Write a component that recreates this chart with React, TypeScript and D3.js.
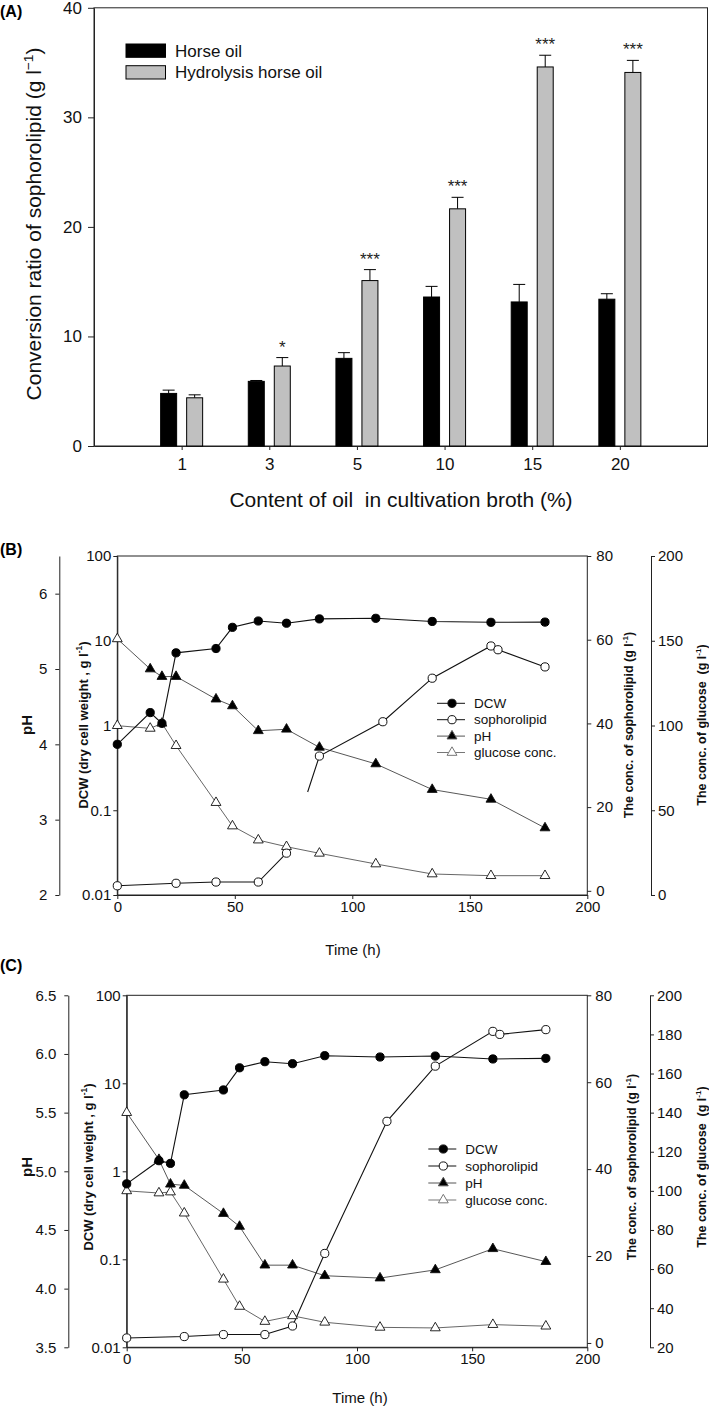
import React, { useEffect, useRef } from "react";
import * as d3 from "d3";

const FONT = "'Liberation Sans', Arial, Helvetica, sans-serif";

// ---- panel A: conversion ratio bars ----
const oilContents = ["1", "3", "5", "10", "15", "20"];
const barSeries = ["Horse oil", "Hydrolysis horse oil"];
const horseOil = [4.8, 5.9, 8.0, 13.6, 13.15, 13.4];
const horseOilErr = [0.3, 0.08, 0.52, 0.97, 1.6, 0.5];
const hydroOil = [4.4, 7.3, 15.1, 21.65, 34.6, 34.1];
const hydroOilErr = [0.27, 0.77, 1.0, 1.05, 1.07, 1.1];
const significance = ["", "*", "***", "***", "***", "***"];
const barTicks = [0, 10, 20, 30, 40];

// ---- panel B: horse oil cultivation ----
const timeB = [0, 14, 19, 25, 42, 49, 60, 72, 86, 110, 134, 159, 182];
const dcwB = [0.6, 1.42, 1.06, 7.2, 8.1, 14.4, 17.1, 16.1, 18.1, 18.4, 16.9, 16.5, 16.6];
const phB = [5.4, 5.0, 4.9, 4.9, 4.6, 4.51, 4.18, 4.2, 3.96, 3.74, 3.4, 3.27, 2.89];
const glucoseB = [99.9, 98.3, 101.3, 88.1, 54.5, 40.7, 32.4, 28.5, 24.6, 18.3, 12.4, 11.4, 11.4];
const sophTimeB = [0, 25, 42, 60, 72, 86, 113, 134, 159, 162, 182];
const sophB = [1.2, 1.8, 2.1, 2.1, 9.0, 32.2, 40.4, 50.8, 58.5, 57.6, 53.5];
// the line between 72 h and 86 h is broken in the original; it restarts here
const sophBRestart = [81, 23.6];

// ---- panel C: hydrolysed horse oil cultivation ----
const timeC = [0, 14, 19, 25, 42, 49, 60, 72, 86, 110, 134, 159, 182];
const dcwC = [0.72, 1.32, 1.23, 7.4, 8.4, 15.0, 17.6, 16.7, 20.6, 19.9, 20.4, 18.9, 19.2];
const phC = [5.5, 5.1, 4.89, 4.88, 4.64, 4.53, 4.2, 4.2, 4.11, 4.09, 4.16, 4.34, 4.23];
const glucoseC = [100, 98.9, 99.4, 88.6, 54.8, 40.9, 33.2, 36.1, 32.8, 30.2, 29.9, 31.6, 30.8];
const sophTimeC = [0, 25, 42, 60, 72, 86, 113, 134, 159, 162, 182];
const sophC = [1.15, 1.47, 1.93, 1.93, 3.9, 20.6, 51.0, 63.7, 71.7, 71.0, 72.1];

const timeTicks = [0, 50, 100, 150, 200];
const dcwTicks = [0.01, 0.1, 1, 10, 100];
const sophTicks = [0, 20, 40, 60, 80];
const legendLabels = ["DCW", "sophorolipid", "pH", "glucose conc."];

type Sel = d3.Selection<any, unknown, null, undefined>;

function styleAxis(g: Sel, size: number) {
  g.attr("font-family", FONT).attr("font-size", size);
  g.select(".domain").attr("stroke", "#222");
  g.selectAll(".tick line").attr("stroke", "#222");
  g.selectAll(".tick text").attr("fill", "#111");
}

function rotTitle(
  g: Sel, x: number, y: number, main: string, sup: string, tail: string,
  size: number, weight: string
) {
  const t = g
    .append("text")
    .attr("transform", `translate(${x},${y}) rotate(-90)`)
    .attr("text-anchor", "middle")
    .attr("y", size * 0.35)
    .attr("font-size", size)
    .attr("font-weight", weight)
    .attr("fill", "#111")
    .style("white-space", "pre");
  t.append("tspan").text(main);
  if (sup) {
    t.append("tspan").attr("font-size", size * 0.65).attr("dy", -size * 0.4).text(sup);
    t.append("tspan").attr("dy", size * 0.4).text(tail);
  } else {
    t.append("tspan").text(tail);
  }
}

function drawBars(svg: Sel) {
  const left = 94, right = 707.5, top = 7.8, bottom = 446;
  const x = d3.scalePoint<string>().domain(oilContents).range([left, right]).padding(1);
  const inner = d3.scaleBand<string>().domain(barSeries).range([-21, 21]).paddingInner(0.385);
  const y = d3.scaleLinear().domain([0, 40]).range([bottom, top]);
  const g = svg.append("g");

  g.append("rect")
    .attr("x", left).attr("y", top)
    .attr("width", right - left).attr("height", bottom - top)
    .attr("fill", "none").attr("stroke", "#222");

  g.append("g")
    .attr("transform", `translate(${left},0)`)
    .call(d3.axisLeft(y).tickValues(barTicks).tickSize(6).tickPadding(6).tickSizeOuter(0))
    .call((a) => styleAxis(a, 17));

  g.append("g")
    .attr("transform", `translate(0,${bottom})`)
    .call(d3.axisBottom(x).tickSize(4).tickPadding(8).tickSizeOuter(0))
    .call((a) => styleAxis(a, 17));

  const series = [
    { name: barSeries[0], values: horseOil, err: horseOilErr, fill: "#000" },
    { name: barSeries[1], values: hydroOil, err: hydroOilErr, fill: "#c0c0c0" },
  ];
  series.forEach((s) => {
    const bw = inner.bandwidth();
    oilContents.forEach((c, i) => {
      const bx = x(c)! + inner(s.name)!;
      const cx = bx + bw / 2;
      const v = s.values[i];
      const e = s.err[i];
      g.append("line")
        .attr("x1", cx).attr("x2", cx)
        .attr("y1", y(v)).attr("y2", y(v + e))
        .attr("stroke", "#000");
      g.append("line")
        .attr("x1", cx - 6).attr("x2", cx + 6)
        .attr("y1", y(v + e)).attr("y2", y(v + e))
        .attr("stroke", "#000");
      g.append("rect")
        .attr("x", bx).attr("y", y(v))
        .attr("width", bw).attr("height", y(0) - y(v))
        .attr("fill", s.fill).attr("stroke", "#000");
    });
  });

  // significance marks over the hydrolysed oil bars
  oilContents.forEach((c, i) => {
    if (!significance[i]) return;
    const cx = x(c)! + inner(barSeries[1])! + inner.bandwidth() / 2;
    g.append("text")
      .attr("x", cx)
      .attr("y", y(hydroOil[i] + hydroOilErr[i]) - 5)
      .attr("text-anchor", "middle")
      .attr("font-size", 17)
      .attr("fill", "#222")
      .text(significance[i]);
  });

  // legend
  const lg = g.append("g").attr("transform", "translate(126,44)");
  series.forEach((s, i) => {
    lg.append("rect")
      .attr("x", 0).attr("y", i * 21.7)
      .attr("width", 39.5).attr("height", 13.3)
      .attr("fill", s.fill).attr("stroke", "#000");
    lg.append("text")
      .attr("x", 49).attr("y", i * 21.7 + 6.8)
      .attr("dy", "0.35em")
      .attr("font-size", 17)
      .attr("fill", "#111")
      .text(s.name);
  });

  g.append("text")
    .attr("x", 401).attr("y", 500).attr("dy", "0.35em")
    .attr("text-anchor", "middle")
    .attr("font-size", 21)
    .attr("fill", "#111")
    .style("white-space", "pre")
    .text("Content of oil  in cultivation broth (%)");

  rotTitle(g, 34, 224, "Conversion ratio of sophorolipid (g l", "\u22121", ")", 21, "normal");

  g.append("text")
    .attr("x", 0).attr("y", 11).attr("dy", "0.35em")
    .attr("font-size", 16).attr("font-weight", "bold")
    .text("(A)");
}

interface PanelCfg {
  tag: string;
  tagY: number;
  left: number;
  right: number;
  top: number;
  bottom: number;
  phAxisX: number;
  glucoseAxisX: number;
  phDomain: [number, number];
  phTicks: number[];
  phFormat: (d: number) => string;
  glucoseDomain: [number, number];
  glucoseTicks: number[];
  time: number[];
  dcw: number[];
  ph: number[];
  glucose: number[];
  sophTime: number[];
  soph: number[];
  sophRestart: number[] | null;
  legendX: number;
  legendY: number;
  legendStep: number;
  titleY: number;
  dcwTitleX: number;
  sophTitleX: number;
  timeLabelX: number;
  timeLabelY: number;
  sophPad: number;
  glucosePad: number;
  xPad: number;
}

function drawTimePanel(svg: Sel, p: PanelCfg) {
  const g = svg.append("g");
  const x = d3.scaleLinear().domain([0, 200]).range([p.left, p.right]);
  const yDcw = d3.scaleLog().domain([0.01, 100]).range([p.bottom, p.top]);
  const yPh = d3.scaleLinear().domain(p.phDomain).range([p.bottom, p.top]);
  const ySoph = d3.scaleLinear().domain([-1, 80]).range([p.bottom, p.top]);
  const yGlu = d3.scaleLinear().domain(p.glucoseDomain).range([p.bottom, p.top]);

  g.append("rect")
    .attr("x", p.left).attr("y", p.top)
    .attr("width", p.right - p.left).attr("height", p.bottom - p.top)
    .attr("fill", "none").attr("stroke", "#222");

  g.append("g")
    .attr("transform", `translate(0,${p.bottom})`)
    .call(d3.axisBottom(x).tickValues(timeTicks).tickSize(4).tickPadding(p.xPad).tickSizeOuter(0))
    .call((a) => styleAxis(a, 15));

  g.append("g")
    .attr("transform", `translate(${p.left},0)`)
    .call(
      d3.axisLeft(yDcw).tickValues(dcwTicks).tickSize(4).tickPadding(2).tickSizeOuter(0)
        .tickFormat((d) => String(d))
    )
    .call((a) => styleAxis(a, 15));

  g.append("g")
    .attr("transform", `translate(${p.phAxisX},0)`)
    .call(
      d3.axisLeft(yPh).tickValues(p.phTicks).tickSize(4).tickPadding(8).tickSizeOuter(0)
        .tickFormat((d) => p.phFormat(d as number))
    )
    .call((a) => styleAxis(a, 15));

  g.append("g")
    .attr("transform", `translate(${p.right},0)`)
    .call(d3.axisRight(ySoph).tickValues(sophTicks).tickSize(4).tickPadding(p.sophPad).tickSizeOuter(0))
    .call((a) => styleAxis(a, 15))
    .call((a) => a.select(".domain").remove());

  g.append("g")
    .attr("transform", `translate(${p.glucoseAxisX},0)`)
    .call(d3.axisRight(yGlu).tickValues(p.glucoseTicks).tickSize(4).tickPadding(p.glucosePad).tickSizeOuter(0))
    .call((a) => styleAxis(a, 15));

  // lines
  const line = d3.line<[number, number]>().x((d) => d[0]).y((d) => d[1]);
  const glu = p.time.map((t, i) => [x(t), yGlu(p.glucose[i])] as [number, number]);
  const ph = p.time.map((t, i) => [x(t), yPh(p.ph[i])] as [number, number]);
  const dcw = p.time.map((t, i) => [x(t), yDcw(p.dcw[i])] as [number, number]);
  const soph = p.sophTime.map((t, i) => [x(t), ySoph(p.soph[i])] as [number, number]);

  const sophSegments: [number, number][][] = [];
  if (p.sophRestart) {
    const cut = p.sophRestart[0];
    sophSegments.push(soph.filter((_, i) => p.sophTime[i] < cut));
    sophSegments.push([
      [x(p.sophRestart[0]), ySoph(p.sophRestart[1])],
      ...soph.filter((_, i) => p.sophTime[i] > cut),
    ]);
  } else {
    sophSegments.push(soph);
  }

  g.append("path").attr("d", line(glu)).attr("fill", "none").attr("stroke", "#555").attr("stroke-width", 0.9);
  g.append("path").attr("d", line(ph)).attr("fill", "none").attr("stroke", "#444").attr("stroke-width", 0.9);
  sophSegments.forEach((s) =>
    g.append("path").attr("d", line(s)).attr("fill", "none").attr("stroke", "#111").attr("stroke-width", 1.1)
  );
  g.append("path").attr("d", line(dcw)).attr("fill", "none").attr("stroke", "#111").attr("stroke-width", 1.1);

  const tri = d3.symbol().type(d3.symbolTriangle).size(42)()!;
  glu.forEach((d) =>
    g.append("path").attr("d", tri).attr("transform", `translate(${d[0]},${d[1]})`)
      .attr("fill", "#fff").attr("stroke", "#111").attr("stroke-width", 0.9)
  );
  ph.forEach((d, i) =>
    g.append("path").attr("d", tri).attr("transform", `translate(${d[0]},${d[1]})`)
      .attr("fill", i === 0 ? "#fff" : "#000").attr("stroke", "#111").attr("stroke-width", 0.9)
  );
  soph.forEach((d) =>
    g.append("circle").attr("cx", d[0]).attr("cy", d[1]).attr("r", 4.1)
      .attr("fill", "#fff").attr("stroke", "#111").attr("stroke-width", 1)
  );
  dcw.forEach((d) =>
    g.append("circle").attr("cx", d[0]).attr("cy", d[1]).attr("r", 4.1)
      .attr("fill", "#000").attr("stroke", "#000")
  );

  // legend
  const styles = [
    { shape: "circle", fill: "#000", stroke: "#111" },
    { shape: "circle", fill: "#fff", stroke: "#111" },
    { shape: "triangle", fill: "#000", stroke: "#555" },
    { shape: "triangle", fill: "#fff", stroke: "#777" },
  ];
  legendLabels.forEach((label, i) => {
    const ly = p.legendY + i * p.legendStep;
    const st = styles[i];
    g.append("line")
      .attr("x1", p.legendX - 15).attr("x2", p.legendX + 13)
      .attr("y1", ly).attr("y2", ly)
      .attr("stroke", st.stroke).attr("stroke-width", 1);
    if (st.shape === "circle") {
      g.append("circle").attr("cx", p.legendX).attr("cy", ly).attr("r", 4.1)
        .attr("fill", st.fill).attr("stroke", "#111");
    } else {
      g.append("path").attr("d", tri).attr("transform", `translate(${p.legendX},${ly})`)
        .attr("fill", st.fill).attr("stroke", st.stroke);
    }
    g.append("text")
      .attr("x", p.legendX + 22).attr("y", ly).attr("dy", "0.35em")
      .attr("font-size", 13.5).attr("fill", "#111")
      .text(label);
  });

  g.append("text")
    .attr("x", p.timeLabelX).attr("y", p.timeLabelY).attr("dy", "0.35em")
    .attr("text-anchor", "middle").attr("font-size", 15).attr("fill", "#111")
    .text("Time (h)");

  rotTitle(g, 27, p.titleY, "pH", "", "", 15, "bold");
  rotTitle(g, p.dcwTitleX, p.titleY, "DCW (dry cell weight , g l", "-1", ")", 13, "bold");
  rotTitle(g, p.sophTitleX, p.titleY, "The conc. of sophorolipid (g l", "-1", ")", 12.5, "bold");
  rotTitle(g, 702, p.titleY, "The conc. of glucose  (g l", "-1", ")", 12.5, "bold");

  g.append("text")
    .attr("x", 0).attr("y", p.tagY).attr("dy", "0.35em")
    .attr("font-size", 16).attr("font-weight", "bold")
    .text(p.tag);
}

const panelB: PanelCfg = {
  tag: "(B)", tagY: 549,
  left: 117.3, right: 587.3, top: 556, bottom: 895,
  phAxisX: 59.3, glucoseAxisX: 651,
  phDomain: [2, 6.5], phTicks: [2, 3, 4, 5, 6], phFormat: (d) => String(d),
  glucoseDomain: [0, 200], glucoseTicks: [0, 50, 100, 150, 200],
  time: timeB, dcw: dcwB, ph: phB, glucose: glucoseB,
  sophTime: sophTimeB, soph: sophB, sophRestart: sophBRestart,
  legendX: 452, legendY: 703.3, legendStep: 16.4,
  titleY: 725, dcwTitleX: 83, sophTitleX: 629,
  timeLabelX: 353, timeLabelY: 950,
  sophPad: 5, glucosePad: 3, xPad: 2,
};

const panelC: PanelCfg = {
  tag: "(C)", tagY: 965,
  left: 126.7, right: 587.3, top: 995.3, bottom: 1347.3,
  phAxisX: 68.3, glucoseAxisX: 650,
  phDomain: [3.5, 6.5], phTicks: [3.5, 4, 4.5, 5, 5.5, 6, 6.5], phFormat: (d) => d3.format(".1f")(d),
  glucoseDomain: [20, 200], glucoseTicks: [20, 40, 60, 80, 100, 120, 140, 160, 180, 200],
  time: timeC, dcw: dcwC, ph: phC, glucose: glucoseC,
  sophTime: sophTimeC, soph: sophC, sophRestart: null,
  legendX: 443.3, legendY: 1149, legendStep: 17,
  titleY: 1167, dcwTitleX: 88, sophTitleX: 632,
  timeLabelX: 360, timeLabelY: 1398,
  sophPad: 4, glucosePad: 3, xPad: 2,
};

export default function App() {
  const ref = useRef<SVGSVGElement | null>(null);

  useEffect(() => {
    document.body.style.margin = "0";
    const el = ref.current;
    if (!el) return;
    const svg = d3.select(el) as unknown as Sel;
    svg.selectAll("*").remove();
    drawBars(svg);
    drawTimePanel(svg, panelB);
    drawTimePanel(svg, panelC);
    return () => {
      d3.select(el).selectAll("*").remove();
    };
  }, []);

  return (
    <svg
      ref={ref}
      width={709}
      height={1407}
      fontFamily={FONT}
      style={{ display: "block", background: "#fff" }}
    />
  );
}
